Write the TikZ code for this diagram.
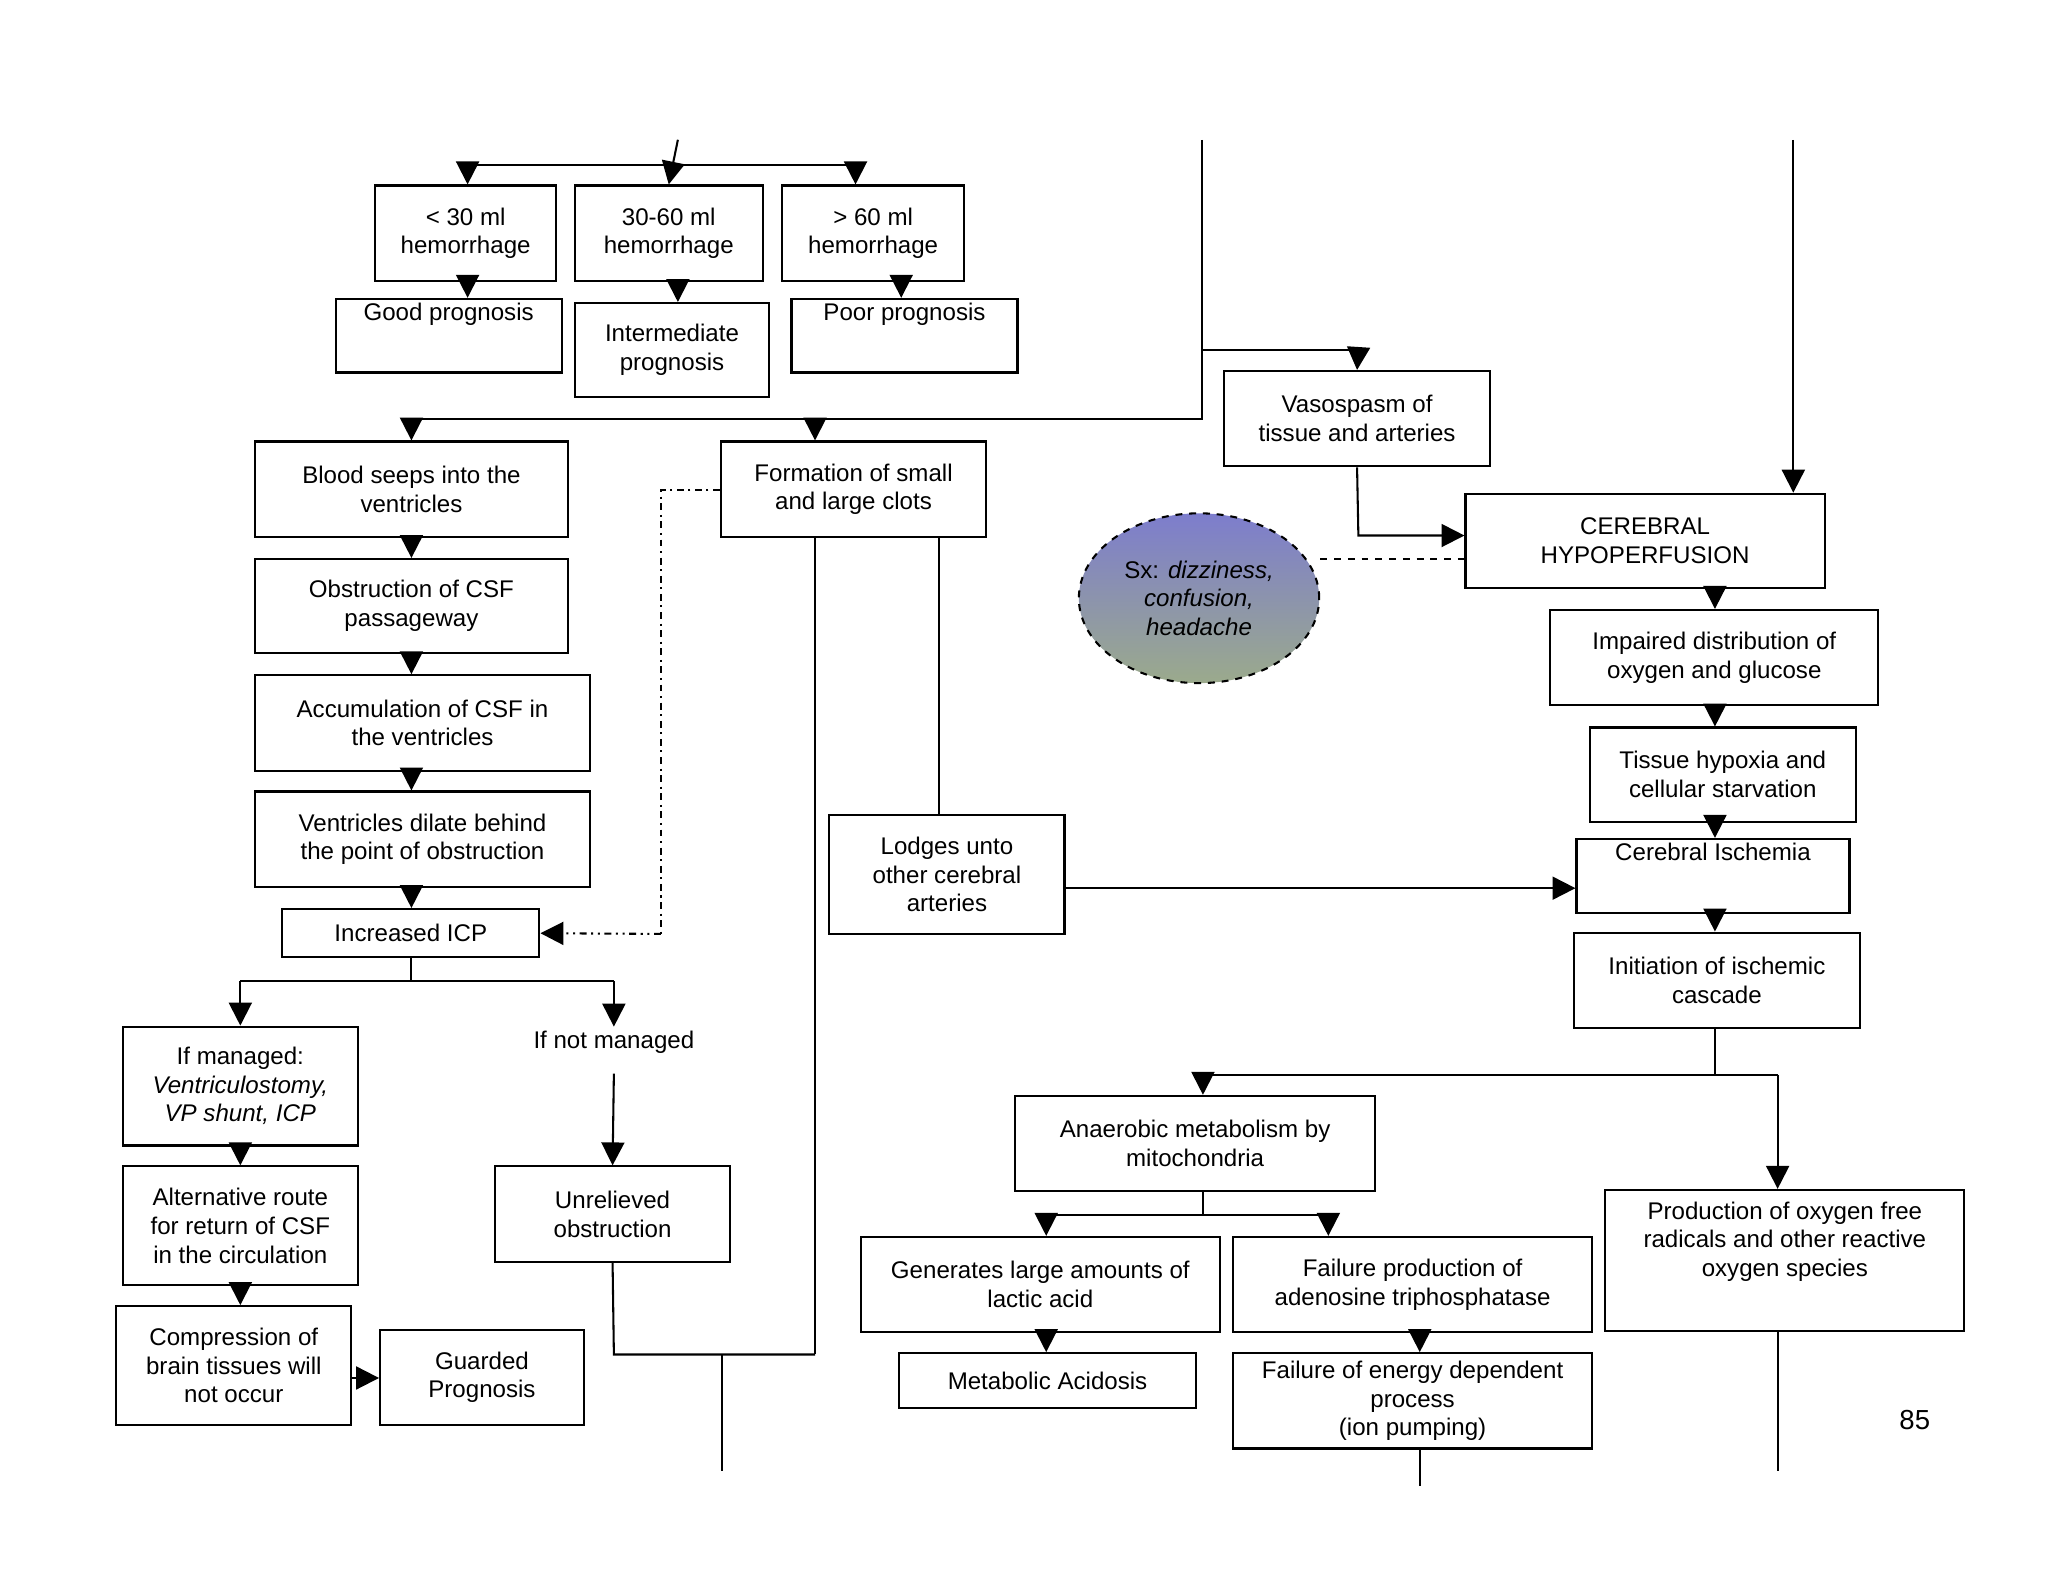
\documentclass[tikz,border=0pt]{standalone}
\usepackage{fontspec}
\setmainfont{Liberation Sans}
\usetikzlibrary{arrows.meta,shapes.geometric}
\begin{document}
\begin{tikzpicture}[x=0.02cm,y=-0.02cm,
  box/.style={draw,line width=0.9pt,align=center,inner sep=2pt,font=\fontsize{10.5}{12.5}\selectfont},
  ln/.style={line width=0.9pt},
  arr/.style={ln,-{Triangle[width=10pt,length=10pt]}}]
\useasboundingbox (0,0) rectangle (1568,1211);
\newcommand\bx[6]{\node[box,minimum width={(#4-#2)*0.02cm},minimum height={(#5-#3)*0.02cm}] (#1) at ({(#2+#4)/2},{(#3+#5)/2}) {#6};}
\bx{b30}{287}{142}{426}{215}{< 30 ml\\hemorrhage}
\bx{b3060}{440}{142}{584}{215}{30-60 ml\\hemorrhage}
\bx{b60}{599}{142}{738}{215}{> 60 ml\\hemorrhage}
\bx{good}{257}{232}{430}{282}{Good prognosis\\[8pt]}
\bx{inter}{440}{232}{589}{304}{Intermediate\\prognosis}
\bx{poor}{606}{232}{779}{282}{Poor prognosis\\[8pt]}
\bx{vaso}{937}{284}{1141}{357}{Vasospasm of\\tissue and arteries}
\bx{blood}{195}{338}{435}{411}{Blood seeps into the\\ventricles}
\bx{form}{552}{338}{755}{411}{Formation of small\\and large clots}
\bx{obs}{195}{428}{435}{500}{Obstruction of CSF\\passageway}
\bx{accum}{195}{517}{452}{590}{Accumulation of CSF in\\the ventricles}
\bx{vent}{195}{606}{452}{679}{Ventricles dilate behind\\the point of obstruction}
\bx{icp}{216}{696}{413}{733}{Increased ICP}
\bx{cereb}{1122}{378}{1397}{450}{CEREBRAL\\HYPOPERFUSION}
\bx{impaired}{1187}{467}{1438}{540}{Impaired distribution of\\oxygen and glucose}
\bx{tissue}{1217}{557}{1421}{629}{Tissue hypoxia and\\cellular starvation}
\bx{isch}{1207}{644}{1416}{697}{Cerebral Ischemia\\[8pt]}
\bx{init}{1205}{714}{1424}{787}{Initiation of ischemic\\cascade}
\bx{lodges}{635}{624}{815}{715}{Lodges unto\\other cerebral\\arteries}
\bx{ifman}{94}{786}{274}{877}{If managed:\\\itshape Ventriculostomy,\\\itshape VP shunt, ICP}
\bx{alt}{94}{893}{274}{984}{Alternative route\\for return of CSF\\in the circulation}
\bx{comp}{89}{1000}{269}{1091}{Compression of\\brain tissues will\\not occur}
\bx{guarded}{291}{1018}{447}{1091}{Guarded\\Prognosis}
\node[font=\fontsize{10.5}{12.5}\selectfont] (notman) at (470,798) {If not managed};
\bx{unrel}{379}{893}{559}{966}{Unrelieved\\obstruction}
\bx{anaer}{777}{839}{1053}{912}{Anaerobic metabolism by\\mitochondria}
\bx{gener}{659}{947}{934}{1020}{Generates large amounts of\\lactic acid}
\bx{failprod}{944}{947}{1219}{1020}{Failure production of\\adenosine triphosphatase}
\bx{prodox}{1229}{911}{1504}{1019}{Production of oxygen free\\radicals and other reactive\\oxygen species\\[6pt]}
\bx{metab}{688}{1036}{916}{1078}{Metabolic Acidosis}
\bx{faile}{944}{1036}{1219}{1109}{Failure of energy dependent\\process\\(ion pumping)}
\node[ellipse,draw,dashed,line width=0.9pt,minimum width=184*0.02cm,minimum height=130*0.02cm,top color={rgb,255:red,125;green,125;blue,205},bottom color={rgb,255:red,155;green,170;blue,140},align=center,font=\fontsize{10.5}{12.5}\selectfont] (sx) at (918,458) {Sx: \itshape dizziness,\\\itshape confusion,\\\itshape headache};
\node[font=\fontsize{12}{14}\selectfont] (pg) at (1466,1087) {85};
% top
\coordinate (t0) at (519,107); \coordinate (t1) at (519,126);
\draw[arr] (t0) -- (b3060.north);
\draw[ln] (358,126) -- (655,126);
\draw[arr] (358,126) -- (358,0 |- b30.north);
\draw[arr] (655,126) -- (655,0 |- b60.north);
\draw[arr] (358,0 |- b30.south) -- (358,0 |- good.north);
\draw[arr] (519,0 |- b3060.south) -- (519,0 |- inter.north);
\draw[arr] (690,0 |- b60.south) -- (690,0 |- poor.north);
% middle trunk
\coordinate (m0) at (920,107); \coordinate (m1) at (920,321);
\draw[ln] (m0) -- (m1) -- (315,321);
\draw[arr] (315,321) -- (blood.north);
\draw[arr] (624,321) -- (624,0 |- form.north);
\draw[ln] (920,268) -- (1040,268);
\draw[arr] (1040,268) -- (vaso.north);
\draw[arr] (vaso.south) -- (1040,410) -- (cereb.west |- 0,410);
\coordinate (r0) at (1373,107);
\draw[arr] (r0) -- (1373,0 |- cereb.north);
\draw[ln,dashed] (sx.east |- 0,428) -- (cereb.west |- 0,428);
% left chain
\draw[arr] (blood) -- (obs);
\draw[arr] (obs) -- (315,0 |- accum.north);
\draw[arr] (315,0 |- accum.south) -- (315,0 |- vent.north);
\draw[arr] (315,0 |- vent.south) -- (315,0 |- icp.north);
\draw[ln,dash dot] (form.west |- 0,375) -- (506,375) -- (506,715);
\draw[arr,dash dot dot] (506,715) -- (icp.east);
\draw[ln] (315,0 |- icp.south) -- (315,751) -- (470,751);
\draw[ln] (315,751) -- (184,751);
\draw[arr] (184,751) -- (184,0 |- ifman.north);
\draw[arr] (470,751) -- (470,786);
\draw[arr] (470,822) -- (unrel.north);
\draw[arr] (184,0 |- ifman.south) -- (184,0 |- alt.north);
\draw[arr] (184,0 |- alt.south) -- (184,0 |- comp.north);
\draw[arr] (comp.east |- 0,1055) -- (guarded.west |- 0,1055);
\draw[ln] (unrel.south) -- (470,1037) -- (624,1037);
\draw[ln] (624,0 |- form.south) -- (624,1037);
\draw[ln] (553,1037) -- (553,1126);
\draw[ln] (719,0 |- form.south) -- (719,0 |- lodges.north);
\draw[arr] (lodges.east |- 0,680) -- (isch.west |- 0,680);
% right chain
\draw[arr] (1313,0 |- cereb.south) -- (1313,0 |- impaired.north);
\draw[arr] (1313,0 |- impaired.south) -- (1313,0 |- tissue.north);
\draw[arr] (1313,0 |- tissue.south) -- (1313,0 |- isch.north);
\draw[arr] (1313,0 |- isch.south) -- (1313,0 |- init.north);
\draw[ln] (1313,0 |- init.south) -- (1313,823);
\draw[ln] (921,823) -- (1361,823);
\draw[arr] (921,823) -- (921,0 |- anaer.north);
\draw[arr] (1361,823) -- (1361,0 |- prodox.north);
\draw[ln] (921,0 |- anaer.south) -- (921,930);
\draw[ln] (801,930) -- (1017,930);
\draw[arr] (801,930) -- (801,0 |- gener.north);
\draw[arr] (1017,930) -- (1017,0 |- failprod.north);
\draw[arr] (801,0 |- gener.south) -- (801,0 |- metab.north);
\draw[arr] (1087,0 |- failprod.south) -- (1087,0 |- faile.north);
\draw[ln] (1087,0 |- faile.south) -- (1087,1138);
\draw[ln] (1361,0 |- prodox.south) -- (1361,1126);
\end{tikzpicture}
\end{document}
